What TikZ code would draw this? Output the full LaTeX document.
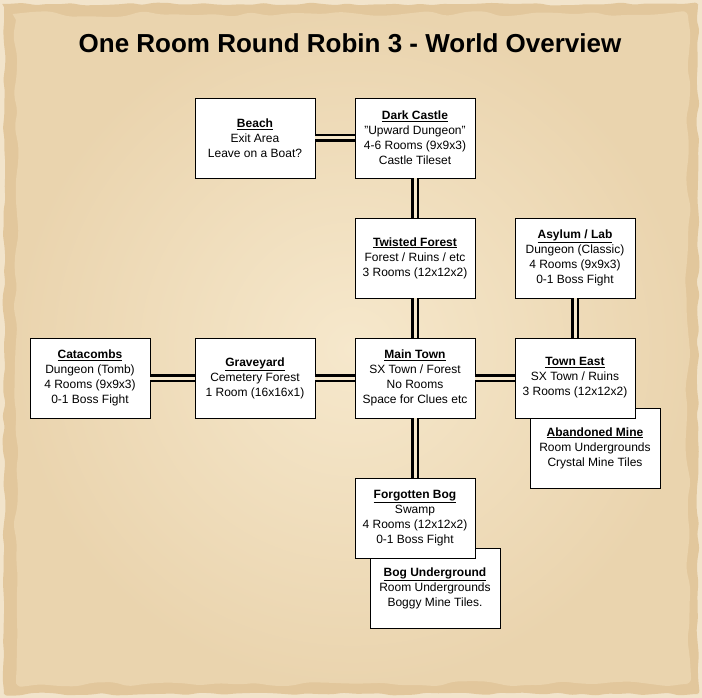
\documentclass[tikz,border=0pt]{standalone}
\usepackage{fontspec}
\setmainfont{Liberation Sans}
\usetikzlibrary{decorations.pathmorphing}

\definecolor{paperedge}{HTML}{F2E4CB}
\definecolor{paperrim}{HTML}{E2C79C}
\definecolor{papermid}{HTML}{EAD4AE}
\definecolor{paperlight}{HTML}{F6E8CC}

\begin{document}
\begin{tikzpicture}[
        x=1pt, y=-1pt,
        room/.style={draw, fill=white, line width=0.9pt, minimum width=120pt,
            minimum height=80pt, inner sep=0pt, align=center,
            font=\fontsize{12}{15}\selectfont},
        wideroom/.style={room, minimum width=130pt},
        link/.style={draw=black, line width=2.2pt, double=paperlight, double distance=3pt}
    ]

        %--------------------------------
        % parchment
        %--------------------------------
        \pgfmathsetseed{7}
        \useasboundingbox (0,0) rectangle (702,698);
        \fill[paperedge] (0,0) rectangle (702,698);
        \fill[paperrim, rounded corners=3pt, decorate,
            decoration={random steps, segment length=12pt, amplitude=1.5pt}]
            (4,4) rectangle (698,694);
        \shade[inner color=paperlight, outer color=papermid, rounded corners=6pt,
            decorate, decoration={random steps, segment length=18pt, amplitude=3pt}]
            (16,14) rectangle (688,684);

        %--------------------------------
        % title
        %--------------------------------
        \node[anchor=base, font=\fontsize{26}{30}\selectfont\bfseries] (title) at (350,53)
            {One Room Round Robin 3 - World Overview};

        %--------------------------------
        % rooms underneath
        %--------------------------------
        \node[wideroom] (mine) at (595,448)
            {\underline{\textbf{Abandoned Mine}}\\Room Undergrounds\\Crystal Mine Tiles};
        \node[wideroom] (bogunder) at (435,588)
            {\underline{\textbf{Bog Underground}}\\Room Undergrounds\\Boggy Mine Tiles.};

        %--------------------------------
        % rooms
        %--------------------------------
        \node[room] (beach) at (255,138)
            {\underline{\textbf{Beach}}\\Exit Area\\Leave on a Boat?};
        \node[room] (castle) at (415,138)
            {\underline{\textbf{Dark Castle}}\\"Upward Dungeon"\\4-6 Rooms (9x9x3)\\Castle Tileset};
        \node[room] (forest) at (415,258)
            {\underline{\textbf{Twisted Forest}}\\Forest / Ruins / etc\\3 Rooms (12x12x2)};
        \node[room] (asylum) at (575,258)
            {\underline{\textbf{Asylum / Lab}}\\Dungeon (Classic)\\4 Rooms (9x9x3)\\0-1 Boss Fight};
        \node[room] (catacombs) at (90,378)
            {\underline{\textbf{Catacombs}}\\Dungeon (Tomb)\\4 Rooms (9x9x3)\\0-1 Boss Fight};
        \node[room] (graveyard) at (255,378)
            {\underline{\textbf{Graveyard}}\\Cemetery Forest\\1 Room (16x16x1)};
        \node[room] (maintown) at (415,378)
            {\underline{\textbf{Main Town}}\\SX Town / Forest\\No Rooms\\Space for Clues etc};
        \node[room] (towneast) at (575,378)
            {\underline{\textbf{Town East}}\\SX Town / Ruins\\3 Rooms (12x12x2)};
        \node[room] (bog) at (415,518)
            {\underline{\textbf{Forgotten Bog}}\\Swamp\\4 Rooms (12x12x2)\\0-1 Boss Fight};

        %--------------------------------
        % paths
        %--------------------------------
        \foreach \a/\b in {beach/castle, catacombs/graveyard, graveyard/maintown, maintown/towneast}
            \draw[link] (\a.east) -- (\b.west);

        \foreach \a/\b in {castle/forest, forest/maintown, asylum/towneast, maintown/bog}
            \draw[link] (\a.south) -- (\b.north);

    \end{tikzpicture}
\end{document}
